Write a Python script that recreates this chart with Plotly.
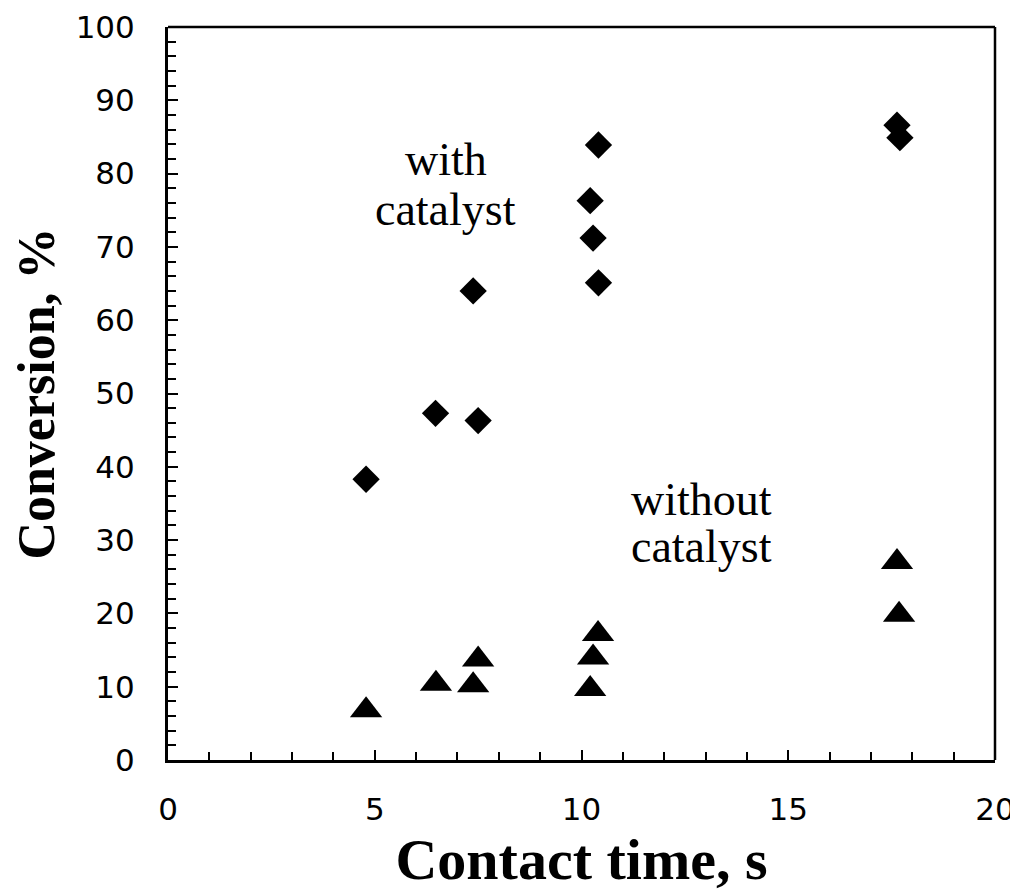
import plotly.graph_objects as go

# Data
with_cat_time = [4.79, 6.47, 7.50, 7.38, 10.41, 10.21, 10.28, 10.41, 17.63, 17.70]
with_cat_conv = [38.3, 47.3, 46.3, 64.0, 83.9, 76.3, 71.2, 65.1, 86.6, 84.9]

without_cat_time = [4.79, 6.48, 7.38, 7.50, 10.40, 10.28, 10.21, 17.63, 17.68]
without_cat_conv = [6.8, 10.4, 10.2, 13.7, 17.2, 14.0, 9.7, 27.0, 19.8]

x_ticks = [0, 5, 10, 15, 20]
y_ticks = [0, 10, 20, 30, 40, 50, 60, 70, 80, 90, 100]

fig = go.Figure()
fig.add_trace(go.Scatter(
    x=with_cat_time, y=with_cat_conv, mode="markers", name="with catalyst",
    marker=dict(symbol="diamond", size=21, color="black", line=dict(width=0)),
    cliponaxis=False,
))
fig.add_trace(go.Scatter(
    x=without_cat_time, y=without_cat_conv, mode="markers", name="without catalyst",
    marker=dict(symbol="triangle-up", size=28, color="black", line=dict(width=0)),
    cliponaxis=False,
))

ann_font = dict(family="Liberation Serif, Times New Roman, serif", size=46, color="black")
for txt, xx, yy in [("with", 6.72, 81.9), ("catalyst", 6.72, 75.1),
                    ("without", 12.9, 35.6), ("catalyst", 12.9, 29.1)]:
    fig.add_annotation(x=xx, y=yy, text=txt, showarrow=False, xanchor="center",
                       yanchor="middle", font=ann_font)

tick_font = dict(family="DejaVu Sans, Verdana, sans-serif", size=31, color="black")
title_font = dict(family="Liberation Serif, Times New Roman, serif", size=58, color="black")

fig.update_xaxes(
    range=[0, 20], tickvals=x_ticks, ticktext=[str(v) for v in x_ticks],
    showgrid=False, zeroline=False, showline=True, linewidth=3, linecolor="black",
    ticks="inside", ticklen=10, tickwidth=1.5, tickcolor="black",
    minor=dict(dtick=1, ticks="inside", ticklen=8, tickwidth=1.5, tickcolor="black", showgrid=False),
    tickfont=tick_font, ticklabelstandoff=20, automargin=False, ticklabeloverflow="allow",
    title=dict(text="<b>Contact time, s</b>", font=title_font, standoff=13),
)
fig.update_yaxes(
    range=[0, 100], tickvals=y_ticks, ticktext=[str(v) for v in y_ticks],
    showgrid=False, zeroline=False, showline=True, linewidth=3, linecolor="black",
    ticks="inside", ticklen=10, tickwidth=1.5, tickcolor="black",
    minor=dict(dtick=2, ticks="inside", ticklen=8, tickwidth=1.5, tickcolor="black", showgrid=False),
    tickfont=tick_font, ticklabelstandoff=24, automargin=False, ticklabeloverflow="allow",
    title=dict(text="<b>Conversion, %</b>",
               font=dict(family="Liberation Serif, Times New Roman, serif", size=52, color="black"),
               standoff=22),
)

# top and right frame lines (thinner than the axes)
fig.add_shape(type="line", xref="paper", yref="paper", x0=0, x1=1, y0=1, y1=1,
              line=dict(color="black", width=2.5), layer="above")
fig.add_shape(type="line", xref="paper", yref="paper", x0=1, x1=1, y0=0, y1=1,
              line=dict(color="black", width=2.5), layer="above")

fig.update_layout(
    width=1010, height=884,
    margin=dict(l=160, r=23, t=19, b=132, autoexpand=False),
    plot_bgcolor="white", paper_bgcolor="white",
    showlegend=False,
)

fig.write_html("out.html")
